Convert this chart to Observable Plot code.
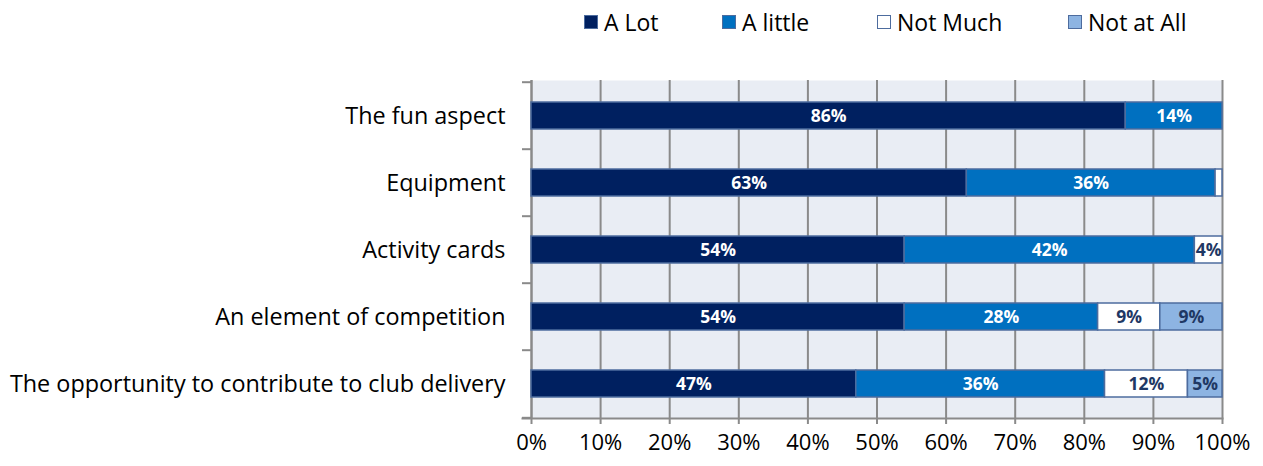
<!DOCTYPE html>
<html><head><meta charset="utf-8">
<script src="https://cdn.jsdelivr.net/npm/d3@7"></script>
<script src="https://cdn.jsdelivr.net/npm/@observablehq/plot@0.6"></script>
<style>
body{margin:0;background:#fff;font-family:"Open Sans", sans-serif;}
#legend{position:relative;height:45px;width:1263px;font-size:23px;color:#000;}
.item{position:absolute;top:7px;display:flex;align-items:center;line-height:30px;}
.sw{width:12px;height:12px;border:1.5px solid #4D6C9E;margin-right:6px;}
</style></head><body>
<div id="legend"></div>
<div id="chart"></div>
<script>
const categories = ["The fun aspect","Equipment","Activity cards","An element of competition","The opportunity to contribute to club delivery"];
const responses = ["A Lot","A little","Not Much","Not at All"];
const aLot     = [86,63,54,54,47];
const aLittle  = [14,36,42,28,36];
const notMuch  = [0,1,4,9,12];
const notAtAll = [0,0,0,9,5];
const colors = ["#002060","#0070C0","#FFFFFF","#8DB4E2"];
const xTicks = [0,10,20,30,40,50,60,70,80,90,100];

const series = [aLot, aLittle, notMuch, notAtAll];
const data = [];
categories.forEach((c, i) => responses.forEach((r, j) => data.push({category: c, response: r, value: series[j][i]})));

// legend
const legendX = [584, 722, 877, 1068];
const leg = document.getElementById("legend");
responses.forEach((r, j) => {
  const it = document.createElement("div");
  it.className = "item"; it.style.left = legendX[j] + "px";
  const sw = document.createElement("div"); sw.className = "sw"; sw.style.background = colors[j];
  const t = document.createElement("span"); t.textContent = r;
  it.appendChild(sw); it.appendChild(t); leg.appendChild(it);
});

const W = 1263, H = 421, mt = 35, mb = 48, ml = 531, mr = 41;
const step = (H - mt - mb) / categories.length;
const axisColor = "#8A8A8A";
const labelFmt = d => d.value >= 3 ? d.value + "%" : "";

const chart = Plot.plot({
  width: W, height: H,
  marginTop: mt, marginBottom: mb, marginLeft: ml, marginRight: mr,
  style: {fontFamily: "'Open Sans', sans-serif", background: "#fff", color: "#000"},
  x: {domain: [0, 100]},
  y: {domain: categories, paddingInner: 0.6, paddingOuter: 0.3},
  color: {domain: responses, range: colors},
  marks: [
    Plot.frame({fill: "#E9EDF4", stroke: null}),
    Plot.gridX(xTicks, {stroke: axisColor, strokeOpacity: 1, strokeWidth: 2}),
    Plot.ruleX([0], {stroke: axisColor, strokeWidth: 2}),
    Plot.frame({anchor: "bottom", stroke: axisColor, strokeWidth: 2, insetLeft: -9}),
    Plot.barX(data, {x: "value", y: "category", fill: "response", order: responses, stroke: "#4D6C9E", strokeWidth: 1.5}),
    Plot.text(data, Plot.stackX({x: "value", y: "category", z: "response", order: responses,
      text: d => (d.response === "A Lot" || d.response === "A little") ? labelFmt(d) : "",
      fill: "#ffffff", fontWeight: "bold", fontSize: 17.5})),
    Plot.text(data, Plot.stackX({x: "value", y: "category", z: "response", order: responses,
      text: d => (d.response === "Not Much" || d.response === "Not at All") ? labelFmt(d) : "",
      fill: "#1F3864", fontWeight: "bold", fontSize: 17.5})),
    Plot.axisX(xTicks, {tickFormat: d => d + "%", tickSize: 6, tickPadding: 10, fontSize: 22, stroke: axisColor, strokeWidth: 2, fill: "#000", label: null}),
    Plot.axisY({tickSize: 0, tickPadding: 26, fontSize: 23.4, fill: "#000", label: null}),
    Plot.axisY(categories, {tickSize: 9, tickFormat: () => "", dy: -step / 2, stroke: axisColor, strokeWidth: 2, label: null}),
    Plot.axisY([categories[categories.length - 1]], {tickSize: 9, tickFormat: () => "", dy: step / 2, stroke: axisColor, strokeWidth: 2, label: null})
  ]
});
document.getElementById("chart").appendChild(chart);
</script>
</body></html>
